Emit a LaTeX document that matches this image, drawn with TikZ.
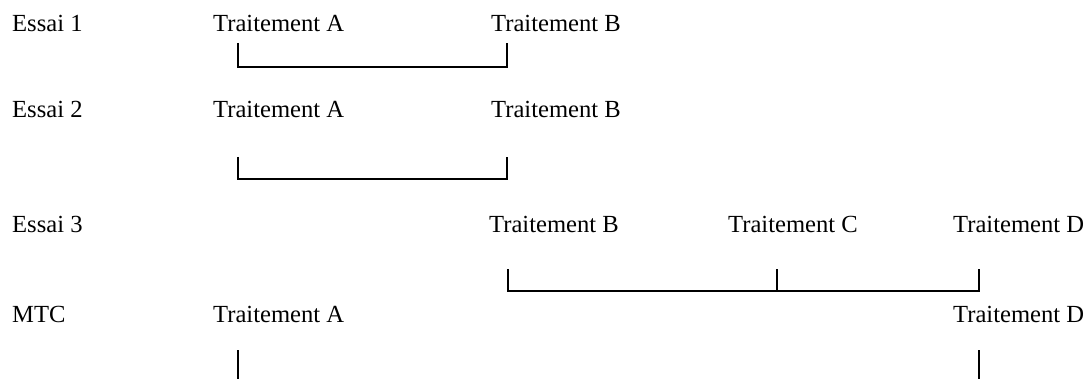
\documentclass[tikz,border=0pt]{standalone}
\usepackage{fontspec}
\setmainfont{Liberation Serif}
\begin{document}
\begin{tikzpicture}[x=1pt,y=-1pt,
  lbl/.style={anchor=base west,inner sep=0pt,font=\fontsize{24.6pt}{29pt}\selectfont},
  bracket/.style={line width=1.4pt,black}]
\useasboundingbox (0,0) rectangle (1091,379);

% row labels
\node[lbl] (e1) at (12,32) {Essai 1};
\node[lbl] (e2) at (12,118) {Essai 2};
\node[lbl] (e3) at (12,233) {Essai 3};
\node[lbl] (mtc) at (12,322) {MTC};

% treatment labels
\node[lbl] (t1a) at (213,32) {Traitement A};
\node[lbl] (t1b) at (491,32) {Traitement B};
\node[lbl] (t2a) at (213,118) {Traitement A};
\node[lbl] (t2b) at (491,118) {Traitement B};
\node[lbl] (t3b) at (489,233) {Traitement B};
\node[lbl] (t3c) at (728,233) {Traitement C};
\node[lbl] (t3d) at (953,233) {Traitement D};
\node[lbl] (t4a) at (213,322) {Traitement A};
\node[lbl] (t4d) at (953,322) {Traitement D};

% bracket end points
\coordinate (p1a) at (238,43);
\coordinate (p1b) at (507,43);
\coordinate (p2a) at (238,157);
\coordinate (p2b) at (507,157);
\coordinate (p3b) at (508,269);
\coordinate (p3c) at (777,269);
\coordinate (p3d) at (979,269);
\coordinate (p4a) at (238,350);
\coordinate (p4d) at (979,350);

% brackets
\draw[bracket] (p1a) -- ++(0,24) -| (p1b);
\draw[bracket] (p2a) -- ++(0,22) -| (p2b);
\draw[bracket] (p3b) -- ++(0,22) -| (p3d);
\draw[bracket] (p3c) -- ++(0,22);
\draw[bracket] (p4a) -- ++(0,29);
\draw[bracket] (p4d) -- ++(0,29);
\end{tikzpicture}
\end{document}
